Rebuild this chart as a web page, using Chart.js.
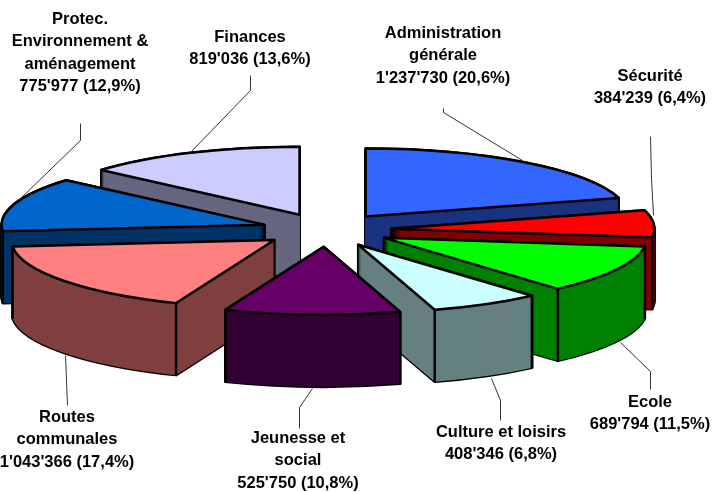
<!DOCTYPE html>
<html>
<head>
<meta charset="utf-8">
<script src="https://cdn.jsdelivr.net/npm/chart.js@4/dist/chart.umd.js"></script>
<style>
  html, body { margin: 0; background: #fff; }
  canvas { display: block; }
</style>
</head>
<body>
<canvas id="budget_chart" width="723" height="492"></canvas>
<script>
var categories = ['Administration\ngénérale', 'Sécurité', 'Ecole', 'Culture et loisirs', 'Jeunesse et\nsocial', 'Routes\ncommunales', 'Protec.\nEnvironnement &\naménagement', 'Finances'];
var amounts = [1237730, 384239, 689794, 408346, 525750, 1043366, 775977, 819036];
var percents = [20.6, 6.4, 11.5, 6.8, 10.8, 17.4, 12.9, 13.6];

var topColors = ['#3366FF', '#FF0000', '#00FF00', '#CCFFFF', '#660066', '#FF8080', '#0066CC', '#CCCCFF'];
var wallColors = ['#1A3380', '#800000', '#008000', '#668080', '#330033', '#804040', '#003366', '#666680'];

// back to front
var drawOrder = [7, 0, 6, 1, 5, 2, 3, 4];

// label centre x, first line centre y
var labelPos = [[443, 33], [650, 76], [650, 402], [501, 432], [298, 438], [67, 417], [80, 19], [250, 37]];
var leaders = [
  [[443, 108], [443, 112], [522, 160]],
  [[650, 136], [651, 178], [653, 215]],
  [[620, 342], [650, 371], [650, 389]],
  [[491, 378], [500, 400], [500, 420]],
  [[312, 388], [299, 407], [299, 428]],
  [[65, 355], [67, 405]],
  [[80, 123], [80, 140], [18, 200]],
  [[250, 75], [250, 90], [189, 153]]
];

var TILT = 0.2586;
var EXPLODE = 65;
var DEPTH = 72;
var LINE_H = 22.5;

function formatAmount(n) {
  return String(n).replace(/\B(?=(\d{3})+$)/g, "'");
}

function labelLines(i) {
  var lines = categories[i].split('\n');
  lines.push(formatAmount(amounts[i]) + ' (' + String(percents[i].toFixed(1)).replace('.', ',') + '%)');
  return lines;
}

// moves the ctx into the flattened, exploded space of one slice
function sliceSpace(ctx, el, drop) {
  var mid = (el.startAngle + el.endAngle) / 2;
  ctx.translate(el.x, el.y + drop);
  ctx.scale(1, TILT);
  ctx.translate(Math.cos(mid) * EXPLODE - el.x, Math.sin(mid) * EXPLODE - el.y);
}

function stampSlice(ctx, el, color, drop) {
  var saved = el.options;
  el.options = Object.assign({}, saved, { backgroundColor: color, borderWidth: 0 });
  ctx.save();
  sliceSpace(ctx, el, drop);
  el.draw(ctx);
  ctx.restore();
  el.options = saved;
}

function strokeSlice(ctx, el, drop) {
  ctx.save();
  sliceSpace(ctx, el, drop);
  ctx.beginPath();
  ctx.moveTo(el.x, el.y);
  ctx.arc(el.x, el.y, el.outerRadius, el.startAngle, el.endAngle);
  ctx.closePath();
  ctx.restore();
  ctx.stroke();
}

// vertical edge at an arc end, only if it faces the viewer
function strokeEdge(ctx, el, angle) {
  if (Math.sin(angle) <= 0) return;
  var mid = (el.startAngle + el.endAngle) / 2;
  var x = el.x + Math.cos(mid) * EXPLODE + Math.cos(angle) * el.outerRadius;
  var y = el.y + (Math.sin(mid) * EXPLODE + Math.sin(angle) * el.outerRadius) * TILT;
  ctx.beginPath();
  ctx.moveTo(x, y);
  ctx.lineTo(x, y + DEPTH);
  ctx.stroke();
}

var pie3d = {
  id: 'pie3d',
  beforeDatasetsDraw: function(chart) {
    var ctx = chart.ctx;
    var arcs = chart.getDatasetMeta(0).data;
    ctx.save();
    ctx.lineJoin = 'round';
    ctx.strokeStyle = '#000';
    ctx.lineWidth = 2.5;
    drawOrder.forEach(function(i) {
      var el = arcs[i];
      var d;
      for (d = DEPTH; d >= 0; d--) strokeSlice(ctx, el, d);
      for (d = DEPTH; d >= 0; d--) stampSlice(ctx, el, wallColors[i], d);
      strokeEdge(ctx, el, el.startAngle);
      strokeEdge(ctx, el, el.endAngle);
      stampSlice(ctx, el, topColors[i], 0);
      strokeSlice(ctx, el, 0);
    });
    ctx.restore();
    return false;
  },
  afterDraw: function(chart) {
    var ctx = chart.ctx;
    ctx.save();
    ctx.strokeStyle = '#333';
    ctx.lineWidth = 1;
    leaders.forEach(function(pts) {
      ctx.beginPath();
      pts.forEach(function(p, n) {
        if (n === 0) ctx.moveTo(p[0] + 0.5, p[1] + 0.5);
        else ctx.lineTo(p[0] + 0.5, p[1] + 0.5);
      });
      ctx.stroke();
    });
    ctx.fillStyle = '#000';
    ctx.font = 'bold 16.5px "Liberation Sans", Arial, sans-serif';
    ctx.textAlign = 'center';
    ctx.textBaseline = 'middle';
    categories.forEach(function(c, i) {
      labelLines(i).forEach(function(line, n) {
        ctx.fillText(line, labelPos[i][0], labelPos[i][1] + n * LINE_H);
      });
    });
    ctx.restore();
  }
};

new Chart(document.getElementById('budget_chart').getContext('2d'), {
  type: 'pie',
  data: {
    labels: categories,
    datasets: [{
      data: percents,
      backgroundColor: topColors,
      borderWidth: 0
    }]
  },
  options: {
    responsive: false,
    animation: false,
    radius: 263,
    layout: { padding: { right: 70, bottom: 32 } },
    plugins: { legend: { display: false }, tooltip: { enabled: false } }
  },
  plugins: [pie3d]
});
</script>
</body>
</html>
